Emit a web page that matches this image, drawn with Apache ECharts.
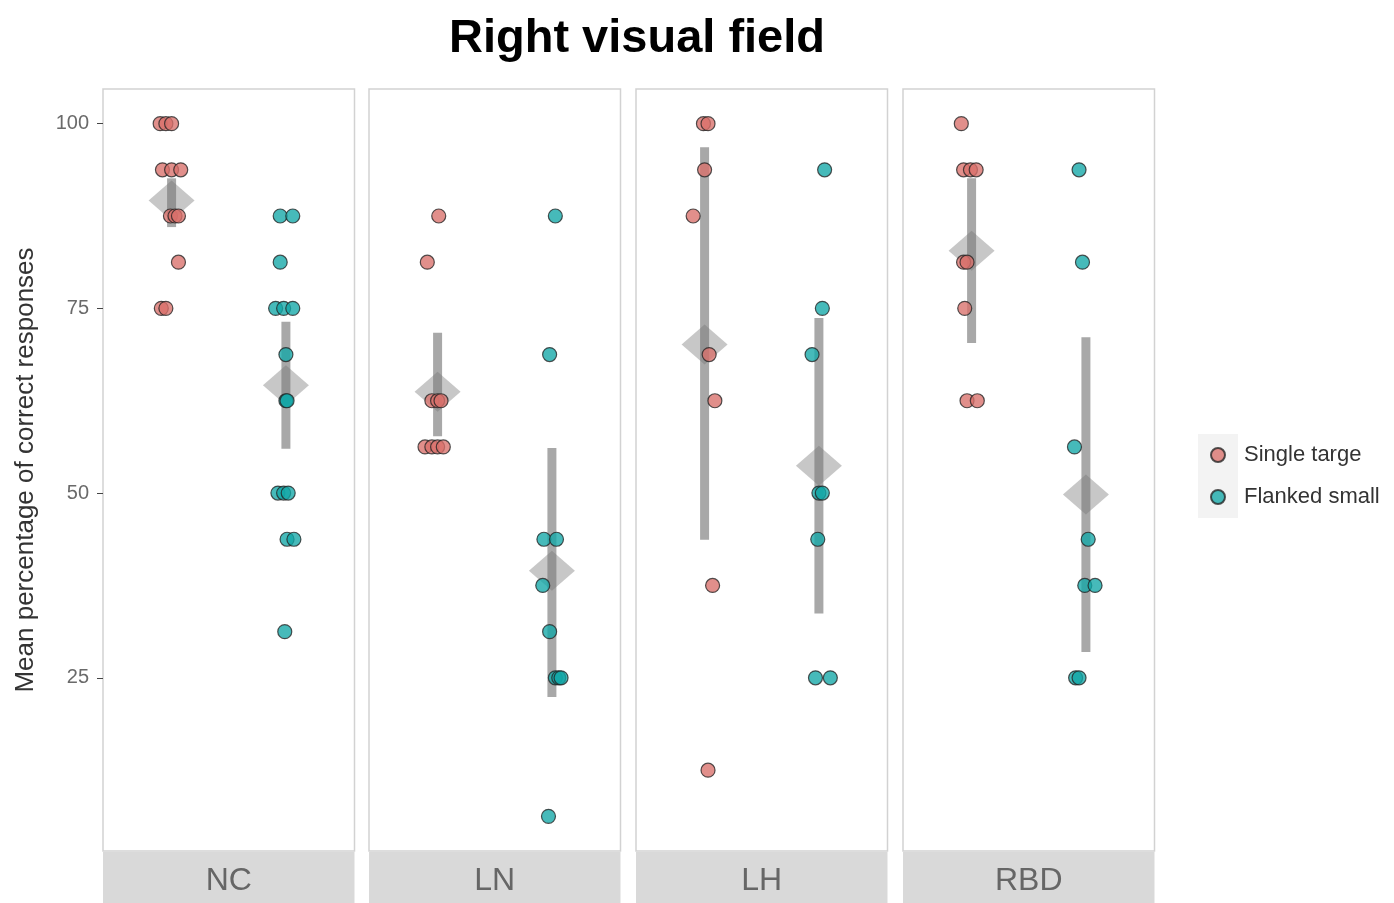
<!DOCTYPE html>
<html>
<head>
<meta charset="utf-8">
<script src="https://cdn.jsdelivr.net/npm/echarts@6/dist/echarts.min.js"></script>
<style>
html,body{margin:0;padding:0;background:#fff;}
#c{width:1394px;height:903px;}
</style>
</head>
<body>
<div id="c"></div>
<script>
// ---------- data ----------
const panels = ['NC', 'LN', 'LH', 'RBD'];
const groups = ['Single targe', 'Flanked small'];
const yTicks = [25, 50, 75, 100];
const titleText = 'Right visual field';
const yTitle = 'Mean percentage of correct responses';

// points: [horizontal jitter (category units), value]
const ncSingle = [[-0.10,100],[-0.05,100],[0.0,100],[-0.08,93.75],[0.0,93.75],[0.08,93.75],
  [-0.01,87.5],[0.03,87.5],[0.06,87.5],[0.06,81.25],[-0.09,75],[-0.05,75]];
const ncFlanked = [[-0.05,87.5],[0.06,87.5],[-0.05,81.25],[-0.09,75],[-0.02,75],[0.06,75],
  [0.0,68.75],[0.0,62.5],[0.01,62.5],[-0.07,50],[-0.02,50],[0.02,50],[0.01,43.75],[0.07,43.75],[-0.01,31.25]];
const lnSingle = [[0.01,87.5],[-0.09,81.25],[-0.05,62.5],[0.0,62.5],[0.03,62.5],
  [-0.11,56.25],[-0.05,56.25],[0.0,56.25],[0.05,56.25]];
const lnFlanked = [[0.03,87.5],[-0.02,68.75],[-0.07,43.75],[0.04,43.75],[-0.08,37.5],[-0.02,31.25],
  [0.03,25],[0.06,25],[0.08,25],[-0.03,6.25]];
const lhSingle = [[-0.01,100],[0.03,100],[0.0,93.75],[-0.10,87.5],[0.04,68.75],[0.09,62.5],[0.07,37.5],[0.03,12.5]];
const lhFlanked = [[0.05,93.75],[0.03,75],[-0.06,68.75],[0.0,50],[0.03,50],[-0.01,43.75],[-0.03,25],[0.10,25]];
const rbdSingle = [[-0.09,100],[-0.07,93.75],[-0.01,93.75],[0.04,93.75],[-0.07,81.25],[-0.04,81.25],
  [-0.06,75],[-0.04,62.5],[0.05,62.5]];
const rbdFlanked = [[-0.06,93.75],[-0.03,81.25],[-0.10,56.25],[0.02,43.75],[-0.01,37.5],[0.08,37.5],
  [-0.09,25],[-0.06,25]];

// summary (mean and error bar ends) per panel
const meanSingle = [89.6, 63.7, 70.1, 82.8];
const lowSingle = [86.0, 57.7, 43.7, 70.3];
const highSingle = [92.6, 71.7, 96.8, 92.6];
const meanFlanked = [64.6, 39.5, 53.7, 49.8];
const lowFlanked = [56.0, 22.4, 33.7, 28.5];
const highFlanked = [73.2, 56.1, 73.7, 71.1];

// ---------- build chart ----------
const singlePts = [ncSingle, lnSingle, lhSingle, rbdSingle];
const flankedPts = [ncFlanked, lnFlanked, lhFlanked, rbdFlanked];

const panelLeft = [103, 369, 636, 903];
const panelW = 251.5;
const panelTop = 89;
const panelH = 762;
const stripH = 60;

const FONT = '"Liberation Sans", Arial, sans-serif';
const redFill = '#D9706A';
const tealFill = '#12A6A6';
const summaryCol = 'rgba(105,105,105,0.58)';

const grids = [], xAxes = [], yAxes = [], series = [], graphics = [];

panels.forEach((p, i) => {
  grids.push({left: panelLeft[i], top: panelTop, width: panelW, height: panelH,
    show: true, borderColor: '#d2d2d2', borderWidth: 1.5, backgroundColor: '#fff', containLabel: false});
  xAxes.push({type: 'value', gridIndex: i, min: 0.4, max: 2.6, show: false});
  yAxes.push({type: 'value', gridIndex: i, min: 1.5625, max: 104.6875,
    splitLine: {show: false},
    axisLine: {show: false},
    axisTick: {show: i === 0, length: 6, lineStyle: {color: '#444', width: 1}, customValues: yTicks},
    axisLabel: {show: i === 0, customValues: yTicks, color: '#6a6a6a', fontSize: 20, fontFamily: FONT, margin: 14},
    name: i === 0 ? yTitle : '',
    nameLocation: 'middle', nameGap: 64, nameRotate: 90,
    nameTextStyle: {color: '#333', fontSize: 26, fontFamily: FONT}
  });

  // error bars
  series.push({
    type: 'custom', xAxisIndex: i, yAxisIndex: i, silent: true, z: 1,
    data: [[1, lowSingle[i], highSingle[i]], [2, lowFlanked[i], highFlanked[i]]],
    encode: {x: 0, y: [1, 2]},
    renderItem: function (params, api) {
      const a = api.coord([api.value(0), api.value(2)]);
      const b = api.coord([api.value(0), api.value(1)]);
      return {type: 'rect', shape: {x: a[0] - 4.5, y: a[1], width: 9, height: b[1] - a[1]},
        style: {fill: summaryCol}};
    }
  });
  // mean diamonds
  series.push({
    type: 'scatter', xAxisIndex: i, yAxisIndex: i, silent: true, z: 2,
    symbol: 'diamond', symbolSize: [46, 40],
    itemStyle: {color: 'rgba(115,115,115,0.5)'},
    data: [[1, meanSingle[i]], [2, meanFlanked[i]]]
  });
  // points
  series.push({
    name: groups[0], type: 'scatter', xAxisIndex: i, yAxisIndex: i, silent: true, z: 3,
    symbol: 'circle', symbolSize: 14,
    itemStyle: {color: redFill, borderColor: '#222', borderWidth: 1.2, opacity: 0.78},
    data: singlePts[i].map(d => [1 + d[0], d[1]])
  });
  series.push({
    name: groups[1], type: 'scatter', xAxisIndex: i, yAxisIndex: i, silent: true, z: 3,
    symbol: 'circle', symbolSize: 14,
    itemStyle: {color: tealFill, borderColor: '#222', borderWidth: 1.2, opacity: 0.78},
    data: flankedPts[i].map(d => [2 + d[0], d[1]])
  });

  // facet strip
  graphics.push({type: 'rect', left: panelLeft[i], top: panelTop + panelH + 1,
    shape: {width: panelW, height: stripH}, style: {fill: '#d9d9d9'}, silent: true});
  graphics.push({type: 'text', x: panelLeft[i] + panelW / 2, y: panelTop + panelH + 30,
    style: {text: p, fill: '#666', font: '32px ' + FONT, textAlign: 'center', textVerticalAlign: 'middle'}, silent: true});
});

// legend key background
graphics.push({type: 'rect', left: 1198, top: 434, shape: {width: 40, height: 84},
  style: {fill: '#f3f3f3'}, silent: true, z: -1});

const chart = echarts.init(document.getElementById('c'), null, {renderer: 'canvas'});
chart.setOption({
  animation: false,
  backgroundColor: '#fff',
  title: {text: titleText, left: 632, textAlign: 'center', top: 11,
    textStyle: {fontFamily: FONT, fontWeight: 'bold', fontSize: 47, color: '#000'}},
  legend: {
    data: groups, orient: 'vertical', left: 1210, top: 444, padding: 0,
    itemWidth: 14, itemHeight: 14, itemGap: 20, icon: 'circle',
    textStyle: {fontFamily: FONT, fontSize: 22, color: '#333', lineHeight: 22, padding: [0, 0, 0, 14]},
    selectedMode: false
  },
  grid: grids, xAxis: xAxes, yAxis: yAxes, series: series,
  graphic: graphics
});
</script>
</body>
</html>
